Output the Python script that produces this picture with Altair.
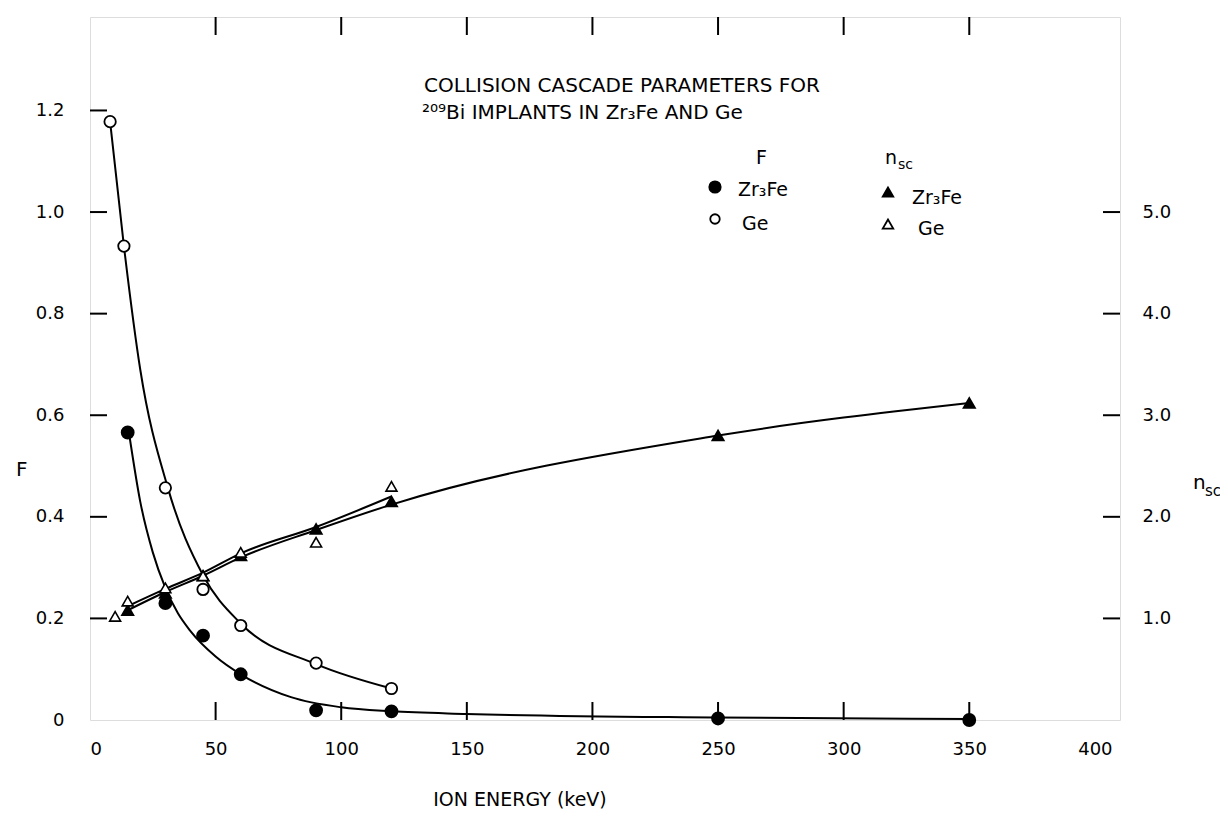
import altair as alt
import pandas as pd

# ---------------- data ----------------
# F markers
f_zr_x = [15, 30, 45, 60, 90, 120, 250, 350]
f_zr_y = [0.566, 0.23, 0.166, 0.09, 0.019, 0.017, 0.003, 0.0]
f_ge_x = [8, 13.5, 30, 45, 60, 90, 120]
f_ge_y = [1.178, 0.933, 0.457, 0.257, 0.186, 0.112, 0.062]
# F drawn curves
fc_zr_x = [15.5, 20, 25, 30, 35, 40, 50, 60, 80, 100, 120, 150, 250, 350]
fc_zr_y = [0.566, 0.43, 0.33, 0.26, 0.21, 0.175, 0.125, 0.09, 0.045, 0.025, 0.017, 0.012, 0.005, 0.002]
fc_ge_x = [8, 13.5, 20, 31, 45, 60, 90, 120]
fc_ge_y = [1.178, 0.933, 0.69, 0.457, 0.285, 0.19, 0.11, 0.062]
# n_sc markers
n_zr_x = [15, 30, 45, 60, 90, 120, 250, 350]
n_zr_y = [1.08, 1.25, 1.42, 1.62, 1.88, 2.15, 2.8, 3.12]
n_ge_x = [10, 15, 30, 45, 60, 90, 120]
n_ge_y = [1.02, 1.17, 1.3, 1.42, 1.65, 1.75, 2.3]
# n_sc drawn lines
nc_zr_x = [15, 30, 45, 60, 90, 120, 250, 350]
nc_zr_y = [1.08, 1.26, 1.42, 1.6, 1.87, 2.12, 2.8, 3.12]
nc_ge_x = [15, 30, 45, 60, 90, 120]
nc_ge_y = [1.12, 1.29, 1.45, 1.64, 1.9, 2.2]

x_ticks = [50, 100, 150, 200, 250, 300, 350]
x_labels = [0, 50, 100, 150, 200, 250, 300, 350, 400]
f_ticks = [0.2, 0.4, 0.6, 0.8, 1.0, 1.2]
f_labels = [0, 0.2, 0.4, 0.6, 0.8, 1.0, 1.2]
n_ticks = [1.0, 2.0, 3.0, 4.0, 5.0]

W, H = 1030, 703
FONT = "DejaVu Sans"

xs = alt.Scale(domain=[0, 410], nice=False, zero=False)
fs = alt.Scale(domain=[0, 1.384], nice=False)
ns = alt.Scale(domain=[0, 6.92], nice=False)

xax = alt.Axis(values=x_labels, ticks=False, domain=False, grid=False, labelPadding=20,
               labelFontSize=18, labelFont=FONT, labelColor="black", title="")
fax = alt.Axis(values=f_labels, ticks=False, domain=False, grid=False, labelPadding=26,
               labelFontSize=18, labelFont=FONT, labelColor="black", title="",
               labelExpr="datum.value == 0 ? '0' : format(datum.value, '.1f')")
nax = alt.Axis(values=n_ticks, ticks=False, domain=False, grid=False, labelPadding=22,
               labelFontSize=18, labelFont=FONT, labelColor="black", title="", orient="right",
               format=".1f")

X = alt.X("x:Q", scale=xs, axis=xax)
YF = alt.Y("y:Q", scale=fs, axis=fax)
YN = alt.Y("y:Q", scale=ns, axis=nax)

def df(x, y):
    return pd.DataFrame({"x": x, "y": y})

# ---------------- F layer ----------------
line_kw = dict(color="black", strokeWidth=2, interpolate="monotone")
f_layers = [
    alt.Chart(df(fc_zr_x, fc_zr_y)).mark_line(**line_kw).encode(x=X, y=YF),
    alt.Chart(df(fc_ge_x, fc_ge_y)).mark_line(**line_kw).encode(x=X, y=YF),
    alt.Chart(df(f_zr_x, f_zr_y)).mark_point(shape="circle", filled=True, fill="black", stroke="black",
                                            size=140, opacity=1).encode(x=X, y=YF),
    alt.Chart(df(f_ge_x, f_ge_y)).mark_point(shape="circle", filled=True, fill="white", stroke="black",
                                            strokeWidth=1.8, size=130, opacity=1).encode(x=X, y=YF),
    # inward ticks on left axis
    alt.Chart(pd.DataFrame({"y": f_ticks})).mark_rule(color="black", strokeWidth=2).encode(
        y=YF, x=alt.value(0), x2=alt.value(17)),
    # inward ticks bottom / top
    alt.Chart(pd.DataFrame({"x": x_ticks})).mark_rule(color="black", strokeWidth=2).encode(
        x=X, y=alt.value(H), y2=alt.value(H - 18)),
    alt.Chart(pd.DataFrame({"x": x_ticks})).mark_rule(color="black", strokeWidth=2).encode(
        x=X, y=alt.value(0), y2=alt.value(18)),
]
f_chart = alt.layer(*f_layers)

# ---------------- n_sc layer ----------------
n_layers = [
    alt.Chart(df(nc_zr_x, nc_zr_y)).mark_line(**line_kw).encode(x=X, y=YN),
    alt.Chart(df(nc_ge_x, nc_ge_y)).mark_line(**line_kw).encode(x=X, y=YN),
    alt.Chart(df(n_zr_x, n_zr_y)).mark_point(shape="triangle-up", filled=True, fill="black", stroke="black",
                                            size=120, opacity=1).encode(x=X, y=YN),
    alt.Chart(df(n_ge_x, n_ge_y)).mark_point(shape="triangle-up", filled=True, fill="white", stroke="black",
                                            strokeWidth=1.6, size=120, opacity=1).encode(x=X, y=YN),
    alt.Chart(pd.DataFrame({"y": n_ticks})).mark_rule(color="black", strokeWidth=2).encode(
        y=YN, x=alt.value(W), x2=alt.value(W - 17)),
]
n_chart = alt.layer(*n_layers)

# ---------------- annotations (pixel positions relative to plot area) ----------------
def txt(s, x, y, size=19, align="left", baseline="middle"):
    return alt.Chart(pd.DataFrame({"t": [s]})).mark_text(
        text=s, font=FONT, fontSize=size, align=align, baseline=baseline, color="black"
    ).encode(x=alt.value(x), y=alt.value(y))

def sym(shape, fill, x, y, size=110):
    return alt.Chart(pd.DataFrame({"t": [0]})).mark_point(
        shape=shape, filled=True, fill=fill, stroke="black", strokeWidth=1.8, size=size, opacity=1
    ).encode(x=alt.value(x), y=alt.value(y))

ann = [
    txt("COLLISION CASCADE PARAMETERS FOR", 334, 69, size=20),
    txt("²⁰⁹Bi IMPLANTS IN Zr₃Fe AND Ge", 332, 96, size=20),
    txt("F", 666, 141),
    sym("circle", "black", 625, 170, 130),
    txt("Zr₃Fe", 648, 173),
    sym("circle", "white", 625, 202, 90),
    txt("Ge", 652, 207),
    txt("n", 795, 141),
    txt("sc", 808, 148, size=14),
    sym("triangle-up", "black", 798, 175, 110),
    txt("Zr₃Fe", 822, 181),
    sym("triangle-up", "white", 798, 207, 110),
    txt("Ge", 828, 212),
    # axis titles
    txt("F", -74, 453, size=20),
    txt("n", 1103, 466, size=20),
    txt("sc", 1115, 474, size=15),
    txt("ION ENERGY (keV)", 430, 783, size=19, align="center"),
]
ann_chart = alt.layer(*ann)

chart = alt.layer(f_chart, n_chart, ann_chart).resolve_scale(y="independent").properties(
    width=W, height=H,
    autosize=alt.AutoSizeParams(type="none"),
    padding={"left": 82, "top": 9, "right": 100, "bottom": 99},
).configure_view(stroke="black", strokeWidth=2).configure(background="white")

chart.save("out.html", embed_options={"renderer": "svg", "actions": False})
